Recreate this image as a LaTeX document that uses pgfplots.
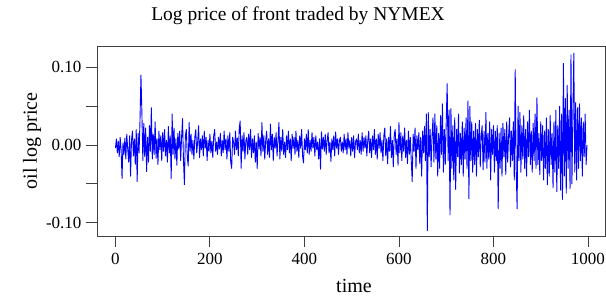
\documentclass[border=0pt]{standalone}
\usepackage{pgfplots}
\usepackage{pgfplotstable}
\pgfplotsset{compat=1.18}
\usepackage{fontspec}
\setmainfont{Liberation Serif}

\pgfplotstableread[row sep=\\]{
t v\\
0 -0.004\\ 2 0.008\\ 4 -0.010\\ 6 0.005\\ 8 -0.015\\ 10 0.010\\ 12 -0.006\\ 14 -0.043\\ 16 0.003\\ 18 -0.012\\
20 0.009\\ 22 -0.018\\ 24 0.014\\ 26 -0.005\\ 28 -0.022\\ 30 0.012\\ 32 -0.040\\ 34 0.006\\ 36 0.018\\ 38 -0.014\\
40 0.008\\ 42 -0.025\\ 44 0.020\\ 46 -0.047\\ 48 0.015\\ 50 -0.010\\ 52 0.032\\ 54 0.090\\ 56 0.042\\ 58 -0.020\\
60 0.028\\ 62 -0.015\\ 64 0.022\\ 66 -0.034\\ 68 0.010\\ 70 -0.022\\ 72 0.025\\ 74 -0.008\\ 76 0.048\\ 78 -0.018\\
80 0.014\\ 82 -0.012\\ 84 0.030\\ 86 -0.017\\ 88 0.008\\ 90 -0.025\\ 92 0.018\\ 94 -0.006\\ 96 0.012\\ 98 -0.020\\
100 0.016\\ 102 -0.008\\ 104 0.020\\ 106 -0.014\\ 108 0.006\\ 110 -0.022\\ 112 0.024\\ 114 -0.010\\ 116 0.012\\ 118 -0.043\\
120 0.040\\ 122 -0.012\\ 124 0.022\\ 126 -0.018\\ 128 0.008\\ 130 -0.026\\ 132 0.015\\ 134 -0.005\\ 136 0.018\\ 138 -0.020\\
140 0.010\\ 142 0.034\\ 144 -0.020\\ 146 -0.051\\ 148 0.012\\ 150 0.020\\ 152 -0.015\\ 154 -0.027\\ 156 0.029\\ 158 -0.008\\
160 0.014\\ 162 -0.012\\ 164 0.006\\ 166 -0.018\\ 168 0.010\\ 170 0.020\\ 172 -0.010\\ 174 0.004\\ 176 0.025\\ 178 -0.016\\
180 0.008\\ 182 -0.006\\ 184 0.012\\ 186 -0.014\\ 188 0.018\\ 190 -0.004\\ 192 0.010\\ 194 -0.020\\ 196 0.006\\ 198 -0.008\\
200 0.014\\ 202 -0.010\\ 204 0.005\\ 206 -0.016\\ 208 0.012\\ 210 0.020\\ 212 -0.008\\ 214 0.004\\ 216 -0.012\\ 218 0.010\\
220 -0.005\\ 222 0.015\\ 224 -0.014\\ 226 0.006\\ 228 -0.010\\ 230 0.018\\ 232 -0.006\\ 234 0.008\\ 236 -0.018\\ 238 0.012\\
240 -0.008\\ 242 0.016\\ 244 -0.022\\ 246 -0.030\\ 248 0.010\\ 250 0.004\\ 252 -0.012\\ 254 0.018\\ 256 -0.006\\ 258 0.009\\
260 -0.014\\ 262 0.022\\ 264 0.031\\ 266 -0.030\\ 268 0.012\\ 270 -0.008\\ 272 0.016\\ 274 -0.018\\ 276 0.006\\ 278 0.010\\
280 -0.012\\ 282 0.014\\ 284 -0.006\\ 286 0.020\\ 288 -0.016\\ 290 0.008\\ 292 -0.010\\ 294 0.012\\ 296 -0.022\\ 298 0.004\\
300 -0.030\\ 302 0.015\\ 304 -0.005\\ 306 0.010\\ 308 -0.014\\ 310 0.029\\ 312 -0.008\\ 314 0.012\\ 316 -0.018\\ 318 0.006\\
320 0.018\\ 322 -0.012\\ 324 0.008\\ 326 -0.016\\ 328 0.027\\ 330 -0.006\\ 332 0.014\\ 334 -0.020\\ 336 0.010\\ 338 -0.004\\
340 0.016\\ 342 -0.014\\ 344 0.006\\ 346 0.029\\ 348 -0.018\\ 350 0.010\\ 352 -0.008\\ 354 0.020\\ 356 -0.012\\ 358 0.004\\
360 -0.016\\ 362 0.012\\ 364 -0.006\\ 366 0.018\\ 368 -0.010\\ 370 0.008\\ 372 -0.020\\ 374 0.014\\ 376 -0.004\\ 378 0.010\\
380 -0.012\\ 382 0.018\\ 384 -0.008\\ 386 0.006\\ 388 -0.016\\ 390 0.012\\ 392 -0.004\\ 394 0.020\\ 396 -0.014\\ 398 -0.023\\
400 0.008\\ 402 -0.006\\ 404 0.014\\ 406 -0.010\\ 408 0.020\\ 410 -0.012\\ 412 0.006\\ 414 -0.008\\ 416 0.016\\ 418 -0.004\\
420 0.010\\ 422 -0.014\\ 424 0.012\\ 426 -0.006\\ 428 0.004\\ 430 -0.018\\ 432 0.008\\ 434 -0.031\\ 436 0.017\\ 438 -0.005\\
440 0.010\\ 442 -0.008\\ 444 0.014\\ 446 -0.012\\ 448 0.006\\ 450 0.016\\ 452 -0.010\\ 454 0.004\\ 456 -0.021\\ 458 0.008\\
460 -0.006\\ 462 0.012\\ 464 -0.014\\ 466 0.017\\ 468 -0.004\\ 470 0.008\\ 472 -0.012\\ 474 0.006\\ 476 0.010\\ 478 -0.008\\
480 0.004\\ 482 -0.010\\ 484 0.014\\ 486 -0.006\\ 488 0.008\\ 490 -0.012\\ 492 0.016\\ 494 -0.004\\ 496 0.006\\ 498 -0.014\\
500 0.010\\ 502 -0.008\\ 504 0.012\\ 506 -0.016\\ 508 0.004\\ 510 0.008\\ 512 -0.006\\ 514 0.014\\ 516 -0.010\\ 518 0.006\\
520 -0.012\\ 522 0.016\\ 524 -0.008\\ 526 0.010\\ 528 -0.004\\ 530 0.012\\ 532 -0.014\\ 534 0.006\\ 536 0.018\\ 538 -0.010\\
540 0.008\\ 542 -0.016\\ 544 0.012\\ 546 -0.006\\ 548 0.020\\ 550 -0.012\\ 552 0.008\\ 554 -0.018\\ 556 0.014\\ 558 -0.004\\
560 0.016\\ 562 -0.010\\ 564 0.006\\ 566 -0.020\\ 568 0.012\\ 570 0.022\\ 572 -0.014\\ 574 0.008\\ 576 -0.024\\ 578 0.010\\
580 -0.008\\ 582 0.024\\ 584 -0.016\\ 586 0.006\\ 588 -0.028\\ 590 0.014\\ 592 0.020\\ 594 -0.012\\ 596 0.008\\ 598 -0.026\\
600 0.029\\ 602 -0.010\\ 604 0.016\\ 606 -0.020\\ 608 0.012\\ 610 -0.008\\ 612 0.022\\ 614 -0.016\\ 616 0.006\\ 618 -0.024\\
620 0.018\\ 622 -0.012\\ 624 0.010\\ 626 -0.020\\ 628 -0.047\\ 630 0.014\\ 632 -0.008\\ 634 0.022\\ 636 -0.030\\ 638 0.012\\
640 -0.006\\ 642 0.016\\ 644 -0.024\\ 646 0.010\\ 648 -0.040\\ 650 0.018\\ 652 -0.010\\ 654 0.024\\ 656 -0.020\\ 658 0.040\\
660 -0.110\\ 662 0.042\\ 664 -0.015\\ 666 0.020\\ 668 -0.028\\ 670 0.012\\ 672 0.035\\ 674 -0.022\\ 676 0.040\\ 678 -0.018\\
680 0.025\\ 682 -0.040\\ 684 0.015\\ 686 -0.030\\ 688 0.038\\ 690 -0.012\\ 692 0.053\\ 694 -0.035\\ 696 0.020\\ 698 -0.025\\
700 0.030\\ 702 0.079\\ 704 -0.020\\ 706 0.045\\ 708 -0.090\\ 710 0.047\\ 712 -0.030\\ 714 0.025\\ 716 -0.045\\ 718 0.035\\
720 -0.057\\ 722 0.020\\ 724 -0.015\\ 726 0.040\\ 728 -0.036\\ 730 0.015\\ 732 -0.025\\ 734 0.030\\ 736 -0.040\\ 738 0.022\\
740 -0.018\\ 742 0.035\\ 744 -0.030\\ 746 0.057\\ 748 -0.069\\ 750 0.050\\ 752 -0.020\\ 754 0.030\\ 756 -0.035\\ 758 0.018\\
760 -0.025\\ 762 0.028\\ 764 -0.040\\ 766 0.020\\ 768 -0.015\\ 770 0.032\\ 772 -0.028\\ 774 0.012\\ 776 0.025\\ 778 -0.032\\
780 0.018\\ 782 -0.022\\ 784 0.042\\ 786 -0.030\\ 788 0.015\\ 790 -0.018\\ 792 0.030\\ 794 -0.045\\ 796 0.020\\ 798 -0.012\\
800 0.025\\ 802 -0.035\\ 804 0.018\\ 806 -0.020\\ 808 0.025\\ 810 -0.082\\ 812 0.015\\ 814 -0.030\\ 816 0.022\\ 818 -0.040\\
820 0.028\\ 822 -0.015\\ 824 0.020\\ 826 -0.038\\ 828 0.030\\ 830 -0.022\\ 832 0.012\\ 834 0.035\\ 836 -0.028\\ 838 0.018\\
840 -0.020\\ 842 0.030\\ 844 -0.045\\ 846 0.097\\ 848 -0.030\\ 850 -0.082\\ 852 0.050\\ 854 -0.020\\ 856 0.042\\ 858 -0.035\\
860 0.025\\ 862 -0.018\\ 864 0.038\\ 866 -0.030\\ 868 0.020\\ 870 -0.040\\ 872 0.030\\ 874 -0.015\\ 876 0.045\\ 878 -0.025\\
880 0.018\\ 882 -0.035\\ 884 0.028\\ 886 -0.020\\ 888 0.040\\ 890 -0.030\\ 892 0.061\\ 894 -0.025\\ 896 0.015\\ 898 -0.038\\
900 0.030\\ 902 -0.020\\ 904 0.025\\ 906 -0.045\\ 908 0.018\\ 910 -0.030\\ 912 0.035\\ 914 -0.051\\ 916 0.020\\ 918 -0.040\\
920 0.038\\ 922 -0.025\\ 924 0.015\\ 926 -0.055\\ 928 0.030\\ 930 -0.035\\ 932 0.045\\ 934 -0.060\\ 936 0.025\\ 938 -0.030\\
940 0.050\\ 942 -0.058\\ 944 0.040\\ 946 -0.070\\ 948 0.105\\ 950 -0.040\\ 952 0.060\\ 954 -0.062\\ 956 0.077\\ 958 -0.030\\
960 0.045\\ 962 -0.056\\ 964 0.116\\ 966 -0.050\\ 968 0.040\\ 970 0.118\\ 972 -0.035\\ 974 0.055\\ 976 -0.045\\ 978 0.048\\
980 -0.030\\ 982 0.053\\ 984 -0.020\\ 986 0.035\\ 988 -0.040\\ 990 0.030\\ 992 -0.015\\ 994 0.040\\ 996 -0.025\\ 998 0.000\\
}\oildata

\begin{document}
\begin{tikzpicture}
\begin{axis}[name=ax, scale only axis, width=508pt, height=190pt,
  xmin=-39, xmax=1036, ymin=-0.117, ymax=0.1275,
  axis line style={black!75, line width=0.9pt},
  tick align=outside, tick pos=left, major tick length=11pt,
  every tick/.style={black!75, line width=0.9pt},
  xtick={0,200,400,600,800,1000}, xticklabels={0,200,400,600,800,1000},
  ytick={-0.1,-0.05,0,0.05,0.1}, yticklabels={-0.10,,0.00,,0.10},
  ticklabel style={font=\fontsize{17}{17}\selectfont},
  xticklabel style={yshift=-3pt},
  yticklabel style={xshift=-1pt},
  xlabel={time}, ylabel={oil log price},
  label style={font=\fontsize{20}{20}\selectfont},
  xlabel style={at={(axis description cs:0.5,0)}, anchor=base, yshift=-56pt, xshift=3pt},
  ylabel style={at={(axis description cs:-0.128,0.5)}, anchor=center, rotate=0},
  title={Log price of front traded by NYMEX},
  title style={font=\fontsize{19.5}{19.5}\selectfont, at={(axis description cs:0,1)}, anchor=base, xshift=201pt, yshift=19pt},
]
\addplot[blue, line width=0.9pt, mark=none, line join=round] table[x=t, y=v] {\oildata};
\end{axis}
\pgfresetboundingbox
\path ([xshift=-97pt,yshift=-63pt]ax.south west) rectangle ([xshift=1pt,yshift=46pt]ax.north east);
\end{tikzpicture}
\end{document}
